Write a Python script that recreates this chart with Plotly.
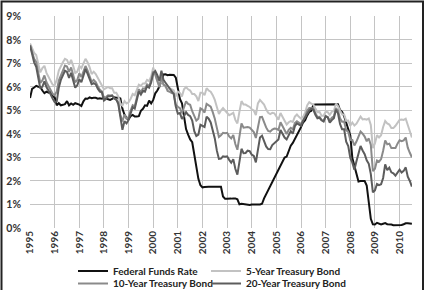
import plotly.graph_objects as go

years = list(range(1995, 2011))

fed_funds = [
    5.53, 5.92, 5.98, 6.05, 6.01, 6.00, 5.85, 5.74, 5.80, 5.76, 5.80, 5.60,
    5.56, 5.22, 5.31, 5.22, 5.24, 5.27, 5.40, 5.22, 5.30, 5.24, 5.31, 5.29,
    5.25, 5.19, 5.39, 5.51, 5.50, 5.56, 5.52, 5.54, 5.54, 5.50, 5.52, 5.50,
    5.56, 5.51, 5.49, 5.45, 5.49, 5.56, 5.54, 5.55, 5.51, 5.07, 4.83, 4.68,
    4.63, 4.76, 4.81, 4.74, 4.74, 4.76, 4.99, 5.07, 5.22, 5.20, 5.42, 5.30,
    5.45, 5.73, 5.85, 6.02, 6.27, 6.53, 6.54, 6.50, 6.52, 6.51, 6.51, 6.40,
    5.98, 5.49, 5.31, 4.80, 4.21, 3.97, 3.77, 3.65, 3.07, 2.49, 2.09, 1.82,
    1.73, 1.74, 1.73, 1.75, 1.75, 1.75, 1.73, 1.74, 1.75, 1.75, 1.34, 1.24,
    1.24, 1.26, 1.25, 1.26, 1.26, 1.22, 1.01, 1.03, 1.01, 1.01, 1.00, 0.98,
    1.00, 1.01, 1.00, 1.00, 1.00, 1.03, 1.26, 1.43, 1.61, 1.76, 1.93, 2.16,
    2.28, 2.50, 2.63, 2.79, 3.00, 3.04, 3.26, 3.50, 3.62, 3.78, 4.00, 4.16,
    4.29, 4.49, 4.59, 4.79, 4.94, 4.99, 5.24, 5.25, 5.25, 5.25, 5.25, 5.24,
    5.25, 5.26, 5.26, 5.25, 5.25, 5.25, 5.26, 5.02, 4.94, 4.76, 4.49, 4.24,
    3.94, 2.98, 2.61, 2.28, 1.98, 2.00, 2.01, 2.00, 1.81, 0.97, 0.39, 0.16,
    0.15, 0.22, 0.18, 0.15, 0.18, 0.21, 0.16, 0.16, 0.15, 0.12, 0.12, 0.12,
    0.11, 0.13, 0.16, 0.20, 0.20, 0.18, 0.18,
]

five_year = [
    7.85, 7.61, 7.45, 7.36, 6.95, 6.62, 6.80, 6.90, 6.60, 6.45, 6.30, 6.10,
    6.08, 6.30, 6.70, 6.90, 7.05, 7.20, 7.15, 6.95, 7.15, 6.90, 6.60, 6.65,
    6.90, 6.80, 7.00, 7.20, 7.05, 6.85, 6.55, 6.65, 6.55, 6.40, 6.20, 6.05,
    5.90, 5.95, 6.00, 5.95, 5.95, 5.75, 5.75, 5.60, 5.30, 5.20, 5.40, 5.30,
    5.35, 5.50, 5.70, 5.65, 5.90, 6.10, 6.05, 6.15, 6.15, 6.30, 6.25, 6.45,
    6.83, 6.50, 6.25, 6.05, 6.30, 6.10, 6.00, 5.90, 5.95, 5.90, 5.85, 5.60,
    5.80, 5.75, 5.60, 5.90, 6.00, 5.90, 5.85, 5.70, 5.70, 5.60, 5.40, 5.75,
    5.75, 5.65, 5.95, 5.85, 5.80, 5.65, 5.45, 5.15, 4.85, 5.00, 5.10, 5.00,
    4.90, 4.80, 4.85, 4.90, 4.60, 4.45, 4.95, 5.40, 5.25, 5.25, 5.20, 5.15,
    5.05, 5.00, 4.80, 5.30, 5.45, 5.35, 5.25, 5.05, 4.90, 4.85, 4.90, 4.88,
    4.77, 4.61, 4.89, 4.75, 4.56, 4.40, 4.50, 4.55, 4.51, 4.74, 4.83, 4.73,
    4.65, 4.73, 4.91, 5.22, 5.35, 5.29, 5.25, 5.08, 4.93, 4.94, 4.78, 4.78,
    4.95, 4.93, 4.81, 4.95, 4.98, 5.29, 5.19, 5.00, 4.84, 4.83, 4.56, 4.57,
    4.35, 4.49, 4.36, 4.44, 4.60, 4.74, 4.62, 4.64, 4.61, 4.66, 4.38, 3.40,
    3.60, 3.95, 3.85, 3.95, 4.30, 4.55, 4.45, 4.40, 4.25, 4.25, 4.35, 4.50,
    4.60, 4.62, 4.60, 4.65, 4.35, 4.15, 3.85,
]

ten_year = [
    7.78, 7.47, 7.20, 7.06, 6.63, 6.17, 6.28, 6.49, 6.20, 6.04, 5.93, 5.71,
    5.65, 5.81, 6.27, 6.51, 6.74, 6.91, 6.87, 6.64, 6.83, 6.53, 6.20, 6.30,
    6.58, 6.42, 6.69, 6.89, 6.71, 6.49, 6.22, 6.30, 6.21, 6.03, 5.88, 5.81,
    5.54, 5.57, 5.65, 5.64, 5.65, 5.50, 5.46, 5.34, 4.81, 4.53, 4.83, 4.65,
    4.72, 5.00, 5.23, 5.18, 5.54, 5.90, 5.79, 5.94, 5.92, 6.11, 6.03, 6.28,
    6.66, 6.52, 6.26, 5.99, 6.44, 6.10, 6.05, 5.83, 5.80, 5.74, 5.72, 5.24,
    5.16, 5.10, 4.89, 5.14, 5.39, 5.28, 5.24, 4.97, 4.73, 4.57, 4.65, 5.09,
    5.04, 4.91, 5.28, 5.21, 5.16, 4.93, 4.65, 4.26, 3.87, 3.94, 4.05, 4.03,
    4.05, 3.90, 3.81, 3.96, 3.57, 3.33, 3.98, 4.45, 4.27, 4.29, 4.30, 4.27,
    4.15, 4.08, 3.83, 4.35, 4.72, 4.73, 4.50, 4.28, 4.13, 4.10, 4.19, 4.23,
    4.22, 4.17, 4.50, 4.34, 4.14, 4.00, 4.18, 4.26, 4.20, 4.46, 4.54, 4.47,
    4.42, 4.57, 4.72, 4.99, 5.11, 5.11, 5.09, 4.88, 4.72, 4.73, 4.60, 4.56,
    4.76, 4.72, 4.56, 4.69, 4.75, 5.10, 5.00, 4.67, 4.52, 4.53, 4.15, 4.10,
    3.74, 3.74, 3.51, 3.68, 3.88, 4.10, 4.01, 3.89, 3.69, 3.81, 3.53, 2.42,
    2.52, 2.87, 2.82, 2.93, 3.29, 3.72, 3.56, 3.59, 3.40, 3.39, 3.40, 3.59,
    3.73, 3.69, 3.73, 3.85, 3.42, 3.20, 3.01,
]

twenty_year = [
    7.76, 7.37, 7.05, 6.86, 6.41, 5.93, 6.01, 6.24, 6.00, 5.86, 5.69, 5.51,
    5.36, 5.38, 5.97, 6.30, 6.48, 6.69, 6.64, 6.39, 6.60, 6.27, 5.97, 6.07,
    6.33, 6.20, 6.54, 6.76, 6.57, 6.38, 6.12, 6.16, 6.11, 5.93, 5.80, 5.77,
    5.42, 5.49, 5.61, 5.61, 5.63, 5.52, 5.46, 5.27, 4.62, 4.18, 4.54, 4.45,
    4.60, 4.91, 5.14, 5.08, 5.44, 5.81, 5.68, 5.84, 5.80, 6.03, 5.97, 6.19,
    6.58, 6.68, 6.50, 6.26, 6.69, 6.30, 6.18, 6.06, 5.93, 5.78, 5.70, 5.17,
    4.86, 4.89, 4.64, 4.76, 4.93, 4.81, 4.76, 4.57, 4.12, 3.91, 3.97, 4.39,
    4.34, 4.30, 4.74, 4.65, 4.49, 4.19, 3.81, 3.29, 2.94, 2.95, 3.05, 3.03,
    3.05, 2.90, 2.78, 2.93, 2.52, 2.27, 2.87, 3.37, 3.18, 3.19, 3.29, 3.27,
    3.12, 3.07, 2.79, 3.39, 3.85, 3.93, 3.69, 3.47, 3.36, 3.35, 3.53, 3.60,
    3.71, 3.77, 4.17, 4.00, 3.85, 3.77, 3.98, 4.12, 4.01, 4.33, 4.45, 4.39,
    4.35, 4.57, 4.72, 4.90, 5.00, 5.07, 5.04, 4.82, 4.67, 4.69, 4.58, 4.53,
    4.75, 4.71, 4.48, 4.59, 4.67, 5.03, 4.88, 4.43, 4.20, 4.20, 3.67, 3.49,
    2.98, 2.78, 2.48, 2.84, 3.15, 3.49, 3.30, 3.14, 2.88, 2.73, 2.29, 1.52,
    1.60, 1.87, 1.82, 1.86, 2.13, 2.71, 2.46, 2.57, 2.37, 2.33, 2.23, 2.34,
    2.48, 2.36, 2.43, 2.58, 2.18, 2.00, 1.76,
]

y_ticks = list(range(0, 10))
y_labels = [f"<b>{v}%</b>" for v in y_ticks]
x_labels = [f"<b>{y}</b>" for y in years]

# monthly observations, starting January 1995 (x in fractional years)
months = [1995 + i / 12 for i in range(len(fed_funds))]

FONT = "Lato"
series = [
    ("<b>Federal Funds Rate</b>", fed_funds, "#111111", "legend"),
    ("<b>5-Year Treasury Bond</b>", five_year, "#c2c2c2", "legend2"),
    ("<b>10-Year Treasury Bond</b>", ten_year, "#8a8a8a", "legend3"),
    ("<b>20-Year Treasury Bond</b>", twenty_year, "#5c5c5c", "legend4"),
]

fig = go.Figure()
for name, vals, color, leg in series:
    fig.add_trace(go.Scatter(
        x=months, y=vals, mode="lines", name=name, legend=leg,
        line=dict(color=color, width=2),
    ))

# plot area: left 30, right 412, top 16, bottom 228
W, H = 427, 290
L, R, T, B = 30, 15, 16, 62
pw, ph = W - L - R, H - T - B

def px_x(p):
    return (p - L) / pw

def px_y(p):
    return (H - B - p) / ph

legfont = dict(family=FONT, size=10, color="#222222")
leg_common = dict(font=legfont, bgcolor="rgba(0,0,0,0)", borderwidth=0,
                  xanchor="left", yanchor="middle", itemwidth=30,
                  tracegroupgap=0)

fig.update_layout(
    width=W, height=H,
    margin=dict(l=L, r=R, t=T, b=B, autoexpand=False),
    paper_bgcolor="white", plot_bgcolor="white",
    font=dict(family=FONT, color="#333333"),
    showlegend=True,
    legend=dict(x=px_x(73), y=px_y(271), **leg_common),
    legend2=dict(x=px_x(206), y=px_y(271), **leg_common),
    legend3=dict(x=px_x(73), y=px_y(283.5), **leg_common),
    legend4=dict(x=px_x(206), y=px_y(283.5), **leg_common),
    xaxis=dict(
        range=[1994.998, 2010.505],
        tickmode="array",
        tickvals=years,
        ticktext=x_labels,
        tickangle=-90,
        tickfont=dict(family=FONT, size=10, color="#333333"),
        showgrid=True, gridcolor="#c4c4c4", gridwidth=1,
        zeroline=False, showline=False, ticks="",
    ),
    yaxis=dict(
        range=[0, 9.02],
        tickvals=y_ticks,
        ticktext=y_labels,
        tickfont=dict(family=FONT, size=10.5, color="#333333"),
        showgrid=True, gridcolor="#c4c4c4", gridwidth=1,
        zeroline=False, showline=False, ticks="",
        ticklabelstandoff=8,
    ),
    shapes=[dict(
        type="rect", xref="paper", yref="paper",
        x0=px_x(1.5), x1=px_x(423), y0=px_y(300), y1=px_y(1.5),
        line=dict(color="#222222", width=2), fillcolor="rgba(0,0,0,0)",
        layer="above",
    )],
)

fig.write_html("out.html")
